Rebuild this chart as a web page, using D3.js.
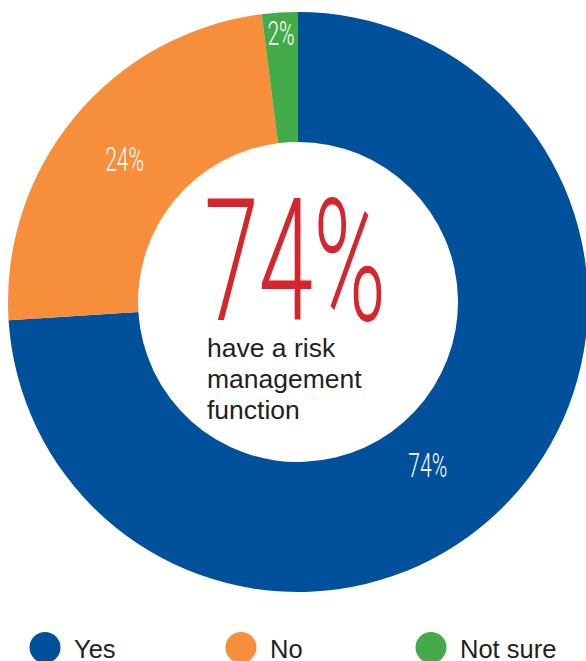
<!DOCTYPE html>
<html>
<head>
<meta charset="utf-8">
<script src="https://cdn.jsdelivr.net/npm/d3@7"></script>
<style>
  html, body { margin: 0; padding: 0; background: #ffffff; }
  svg { display: block; }
</style>
</head>
<body>
<svg id="chart" width="586" height="661"></svg>
<script>
// Survey answers: does the organisation have a risk management function?
const categories = ["Yes", "No", "Not sure"];
const shares = [74, 24, 2];
const sliceLabels = ["74%", "24%", "2%"];
const headline = "74%";
const captionLines = ["have a risk", "management", "function"];

const colors = d3.scaleOrdinal()
  .domain(categories)
  .range(["#00509b", "#f68e3b", "#43ab4a"]);

const svg = d3.select("#chart");
const cx = 298, cy = 302;
const outerR = 290, innerR = 160;

const rows = categories.map((c, i) => ({ category: c, value: shares[i], label: sliceLabels[i] }));

const pie = d3.pie()
  .sort(null)
  .value(d => d.value)
  .startAngle(0)
  .endAngle(2 * Math.PI);

const arc = d3.arc().innerRadius(innerR).outerRadius(outerR);

const arcs = pie(rows);
const ring = svg.append("g").attr("transform", `translate(${cx},${cy})`);

ring.selectAll("path.slice")
  .data(arcs)
  .join("path")
  .attr("class", "slice")
  .attr("d", arc)
  .attr("fill", d => colors(d.data.category));

// Where each percentage sits inside its slice (radius, optional angle in degrees)
const labelSpot = {
  "Yes": { radius: 208, angle: 141.4 },
  "No": { radius: 225 },
  "Not sure": { radius: 270 }
};

const condensed = 0.62;
ring.selectAll("text.pct")
  .data(arcs)
  .join("text")
  .attr("class", "pct")
  .attr("transform", d => {
    const spot = labelSpot[d.data.category];
    const a = spot.angle !== undefined ? spot.angle * Math.PI / 180 : (d.startAngle + d.endAngle) / 2;
    const x = spot.radius * Math.sin(a);
    const y = -spot.radius * Math.cos(a);
    return `translate(${x},${y + 12}) scale(${condensed},1)`;
  })
  .attr("text-anchor", "middle")
  .attr("fill", "#ffffff")
  .style("font-family", "Roboto, 'Liberation Sans', sans-serif")
  .style("font-weight", 300)
  .style("font-size", "34px")
  .text(d => d.data.label);

// Headline figure in the hole
const big = svg.append("text")
  .attr("x", 0)
  .attr("y", 0)
  .attr("fill", "#d4262c")
  .style("font-family", "Roboto, 'Liberation Sans', sans-serif")
  .style("font-weight", 300)
  .style("font-size", "170px")
  .text(headline);

const bb = big.node().getBBox();
const targetWidth = 182;
const sx = targetWidth / bb.width;
big.attr("transform", `translate(${204 - bb.x * sx},320) scale(${sx},1)`);

svg.append("g")
  .selectAll("text")
  .data(captionLines)
  .join("text")
  .attr("x", 207)
  .attr("y", (d, i) => 357 + i * 31)
  .attr("fill", "#231f20")
  .style("font-family", "'Liberation Sans', Arial, sans-serif")
  .style("font-size", "26.5px")
  .text(d => d);

// Legend
const legendX = d3.scaleOrdinal().domain(categories).range([45, 241, 431]);
const legend = svg.append("g")
  .selectAll("g")
  .data(categories)
  .join("g")
  .attr("transform", d => `translate(${legendX(d)},647.5)`);

legend.append("circle")
  .attr("r", 15.5)
  .attr("fill", d => colors(d));

legend.append("text")
  .attr("x", 29)
  .attr("y", 10.5)
  .attr("fill", "#231f20")
  .style("font-family", "'Liberation Sans', Arial, sans-serif")
  .style("font-size", "25.5px")
  .text(d => d);
</script>
</body>
</html>
